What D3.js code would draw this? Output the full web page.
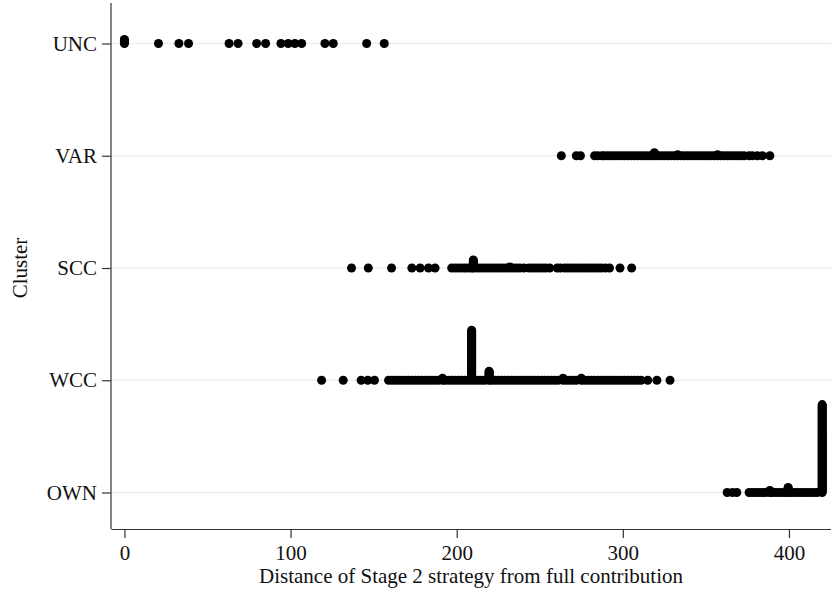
<!DOCTYPE html>
<html>
<head>
<meta charset="utf-8">
<script src="https://cdn.jsdelivr.net/npm/d3@7"></script>
<style>
  body { margin: 0; background: #fff; }
  svg { display: block; font-family: "Liberation Serif", "Times New Roman", serif; }
</style>
</head>
<body>
<div id="chart"></div>
<script>
// clusters, top to bottom
var clusters = ["UNC", "VAR", "SCC", "WCC", "OWN"];
var xTicks = [0, 100, 200, 300, 400];

// distance values, one entry per distinct value
var uncVals = [0, 20.5, 32.8, 38.6, 63, 68.4, 79.6, 85, 94.2, 98.6, 102.6, 106.7, 120.7, 125.7, 145.8, 156.4];
var varVals = [263, 272, 274.5, 283, 285, 287.5, 289, 291, 293, 295, 297, 299, 301, 303, 305, 307, 309, 311,
  313, 315, 317, 319, 321, 323, 325, 327, 329, 331, 333, 335, 337, 339, 341, 343, 345, 347, 349, 351, 353,
  355, 357, 359, 361, 363, 365, 367, 369, 371, 373, 376, 378, 381, 384, 388.5];
var sccVals = [136.7, 146.8, 160.8, 173, 178, 183, 187, 197, 199, 201, 203, 205, 207, 209, 210, 212, 214, 216,
  218, 220, 222, 224, 226, 228, 230, 232, 234, 236, 238, 240.5, 243.5, 245.5, 247.5, 249.5, 251.5, 253.5, 256,
  260.5, 262.5, 265, 267, 269, 271, 273, 275, 277, 279, 281, 283, 285, 287, 289.5, 292, 298.3, 305.3];
var wccVals = [118.7, 131.7, 142.5, 146.5, 150.5, 159, 161, 163, 165, 167, 169, 171, 173, 175, 177, 179, 181,
  183, 185, 187, 189, 191.5, 193, 195, 197, 199, 201, 203, 205, 207, 209, 211, 213, 215, 217, 219.5, 221, 223,
  225, 227, 229, 231, 233, 235, 237, 239, 241, 243, 245, 247, 249, 251, 253, 255, 257, 259, 261, 264, 266, 268,
  270, 272, 275, 277, 279, 281, 283, 285, 287, 289, 291, 293, 295, 297, 299, 301, 303, 305, 307, 309, 311,
  315, 320.5, 328.4];
var ownVals = [362.8, 366, 368.6, 376, 378, 380, 382, 384, 386, 388.5, 390, 392, 394, 396, 398, 399.5, 401,
  403, 405, 407, 409, 411, 413, 415, 417, 420];

// values that occur more than once: [value, count]
var uncStacks = [[0, 5]];
var varStacks = [[319, 4], [333, 2], [357, 2]];
var sccStacks = [[210, 9], [232, 2]];
var wccStacks = [[191.5, 3], [209, 51], [219.5, 10], [264, 3], [275, 3]];
var ownStacks = [[388.5, 3], [399.5, 6], [420, 89]];

var width = 831, height = 592;
var svg = d3.select('#chart').append('svg')
  .attr('width', width)
  .attr('height', height);

var plotLeft = 111, plotRight = 831, plotTop = 3, plotBottom = 529;

var x = d3.scaleLinear().domain([-8.07, 425.3]).range([plotLeft, plotRight]);
var y = d3.scaleLinear().domain([0, 4]).range([43.5, 492.5]);
var stackStep = 0.0089; // vertical offset per repeated value, in cluster units

// build the point list
var allVals = [uncVals, varVals, sccVals, wccVals, ownVals];
var allStacks = [uncStacks, varStacks, sccStacks, wccStacks, ownStacks];
var points = [];
allVals.forEach(function (vals, ci) {
  var counts = new Map(allStacks[ci]);
  vals.forEach(function (v) {
    var n = counts.get(v) || 1;
    for (var k = 0; k < n; k++) {
      points.push({ c: ci, v: v, k: k });
    }
  });
});

// gridlines
svg.append('g')
  .selectAll('line')
  .data(clusters)
  .join('line')
    .attr('x1', plotLeft)
    .attr('x2', plotRight)
    .attr('y1', function (d, i) { return y(i); })
    .attr('y2', function (d, i) { return y(i); })
    .attr('stroke', '#e8f0f1')
    .attr('stroke-width', 1.6);

// y axis
var yAxis = svg.append('g')
  .attr('transform', 'translate(' + plotLeft + ',0)')
  .call(d3.axisLeft(y)
    .tickValues([0, 1, 2, 3, 4])
    .tickFormat(function (d) { return clusters[d]; })
    .tickSize(9)
    .tickPadding(5));
yAxis.select('.domain').remove();
yAxis.selectAll('line').attr('stroke', '#333').attr('stroke-width', 1.2);
yAxis.selectAll('text').attr('font-size', 21).attr('fill', '#111')
  .attr('font-family', '"Liberation Serif", serif');

svg.append('line')
  .attr('x1', plotLeft).attr('x2', plotLeft)
  .attr('y1', plotTop).attr('y2', plotBottom)
  .attr('stroke', '#333').attr('stroke-width', 1.2);

// x axis
var xAxis = svg.append('g')
  .attr('transform', 'translate(0,' + plotBottom + ')')
  .call(d3.axisBottom(x)
    .tickValues(xTicks)
    .tickSize(9)
    .tickSizeOuter(0)
    .tickPadding(7));
xAxis.select('.domain').attr('stroke', '#333').attr('stroke-width', 1.2);
xAxis.selectAll('line').attr('stroke', '#333').attr('stroke-width', 1.2);
xAxis.selectAll('text').attr('font-size', 21).attr('fill', '#111')
  .attr('font-family', '"Liberation Serif", serif');

// titles
svg.append('text')
  .attr('x', (plotLeft + plotRight) / 2)
  .attr('y', 583)
  .attr('text-anchor', 'middle')
  .attr('font-size', 21)
  .attr('fill', '#111')
  .text('Distance of Stage 2 strategy from full contribution');

svg.append('text')
  .attr('transform', 'translate(27,' + y(2) + ') rotate(-90)')
  .attr('text-anchor', 'middle')
  .attr('font-size', 21)
  .attr('fill', '#111')
  .text('Cluster');

// points
svg.append('g')
  .selectAll('circle')
  .data(points)
  .join('circle')
    .attr('cx', function (d) { return x(d.v); })
    .attr('cy', function (d) { return y(d.c - d.k * stackStep); })
    .attr('r', 4.5)
    .attr('fill', '#000');
</script>
</body>
</html>
